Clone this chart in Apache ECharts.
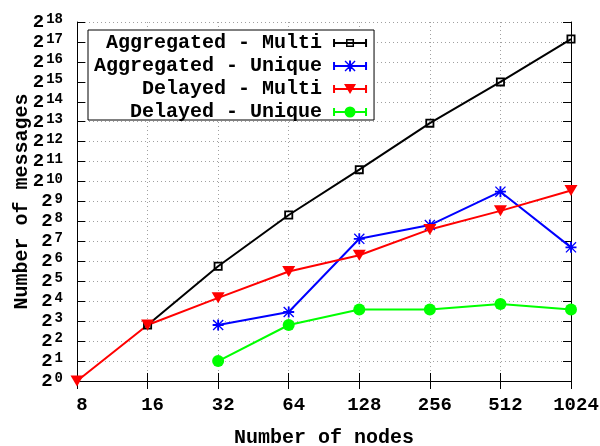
<!DOCTYPE html>
<html>
<head>
<meta charset="utf-8">
<script src="https://cdn.jsdelivr.net/npm/echarts@6/dist/echarts.min.js"></script>
<style>
  html, body { margin: 0; padding: 0; background: #fff; }
  #chart { width: 600px; height: 446px; }
</style>
</head>
<body>
<div id="chart"></div>
<script>
// number of nodes (x, log2 axis)
var nodes = [8, 16, 32, 64, 128, 256, 512, 1024];
// number of messages (null = no point)
var aggregatedMulti = [null, 7, 54, 320, 1550, 7800, 32700, 145000];
var aggregatedUnique = [null, null, 7, 11, 140, 226, 720, 104];
var delayedMulti = [1, 7, 18, 45, 79, 194, 370, 750];
var delayedUnique = [null, null, 2, 7, 12, 12, 14.5, 12];
// y tick exponents: 2^0 .. 2^18
var yExpMin = 0;
var yExpMax = 18;
var seriesNames = ["Aggregated - Multi", "Aggregated - Unique", "Delayed - Multi", "Delayed - Unique"];
var seriesColors = ["#000000", "#0000ff", "#ff0000", "#00ff00"];

var FONT = "Liberation Mono";
var WEIGHT = "bold";

// y axis is drawn in log2 units so every power of two gets a tick
function pairs(vals) {
  var out = [];
  for (var i = 0; i < nodes.length; i++) {
    if (vals[i] != null) out.push([nodes[i], Math.log2(vals[i])]);
  }
  return out;
}

// point shapes (gnuplot like)
var squareSym = "path://M0 0H10V10H0Z M2 2V8H8V2Z";
var starSym = "path://M0 5H12V7H0Z M5 0H7V12H5Z M0 1L1 0L12 11L11 12Z M11 0L12 1L1 12L0 11Z";

// legend icons: error bar line + marker, 34x12 box
var iconBase = "M0 0L0.1 0L0 0.1Z M34 12L33.9 12L34 11.9Z M0 5H34V7H0Z M0 2H2V10H0Z M32 2H34V10H32Z ";
var legendIcons = [
  "path://" + iconBase + "M13 2H21V10H13Z M14.5 3.5V8.5H19.5V3.5Z",
  "path://" + iconBase + "M16 0.5H18V11.5H16Z M11.5 1.5L12.5 0.5L22.5 10.5L21.5 11.5Z M21.5 0.5L22.5 1.5L12.5 11.5L11.5 10.5Z M11.5 5H22.5V7H11.5Z",
  "path://" + iconBase + "M11 1H23L17 11Z",
  "path://" + iconBase + "M22.5 6A5.5 5.5 0 1 1 11.5 6A5.5 5.5 0 1 1 22.5 6Z"
];

var chart = echarts.init(document.getElementById("chart"));

var gridLine = {
  show: true,
  lineStyle: { color: "#a0a0a0", type: [1, 3], width: 1 }
};
var blackTick = { inside: true, length: 8, lineStyle: { color: "#000" } };

chart.setOption({
  backgroundColor: "#fff",
  animation: false,
  grid: {
    left: 77,
    right: 29,
    top: 22,
    bottom: 65,
    outerBoundsMode: "none"
  },
  legend: {
    orient: "vertical",
    left: 88,
    top: 30,
    align: "right",
    itemWidth: 34,
    itemHeight: 12,
    itemGap: 3,
    padding: [3, 7, -2, 6],
    borderColor: "#000",
    borderWidth: 1,
    backgroundColor: "#fff",
    itemStyle: { borderWidth: 0 },
    textStyle: {
      fontFamily: FONT,
      fontWeight: WEIGHT,
      fontSize: 20,
      lineHeight: 19,
      color: "#000",
      padding: [0, 6, 0, 0]
    },
    data: seriesNames.map(function(n, i) {
      return { name: n, icon: legendIcons[i] };
    })
  },
  xAxis: [
    {
      type: "log",
      logBase: 2,
      min: 8,
      max: 1024,
      name: "Number of nodes",
      nameLocation: "middle",
      nameGap: 47,
      nameMoveOverlap: false,
      nameTextStyle: { fontFamily: FONT, fontWeight: WEIGHT, fontSize: 20, color: "#000" },
      axisLine: { lineStyle: { color: "#000", width: 1 } },
      axisTick: blackTick,
      minorTick: { show: false },
      axisLabel: {
        fontFamily: FONT,
        fontWeight: WEIGHT,
        fontSize: 19,
        color: "#000",
        margin: 15,
        padding: [0, 0, 0, 10],
        formatter: function(v) {
          return String(Math.round(v));
        }
      },
      splitLine: gridLine
    },
    {
      type: "log",
      logBase: 2,
      min: 8,
      max: 1024,
      position: "top",
      axisLine: { lineStyle: { color: "#000", width: 1 } },
      axisTick: blackTick,
      axisLabel: { show: false },
      splitLine: { show: false }
    }
  ],
  yAxis: [
    {
      type: "value",
      min: yExpMin,
      max: yExpMax,
      interval: 1,
      name: "Number of messages",
      nameLocation: "middle",
      nameGap: 45,
      nameMoveOverlap: false,
      nameTextStyle: { fontFamily: FONT, fontWeight: WEIGHT, fontSize: 20, color: "#000" },
      axisLine: { show: true, lineStyle: { color: "#000", width: 1 } },
      axisTick: blackTick,
      axisLabel: {
        margin: 14,
        formatter: function(v) {
          return "{b|2}{s|" + v + "}";
        },
        rich: {
          b: { fontFamily: FONT, fontWeight: WEIGHT, fontSize: 19, color: "#000", lineHeight: 19 },
          s: { fontFamily: FONT, fontWeight: WEIGHT, fontSize: 14, color: "#000", verticalAlign: "top", padding: [0, 0, 4, 2] }
        }
      },
      splitLine: gridLine
    },
    {
      type: "value",
      min: yExpMin,
      max: yExpMax,
      interval: 1,
      position: "right",
      axisLine: { show: true, lineStyle: { color: "#000", width: 1 } },
      axisTick: { show: true, inside: true, length: 8, lineStyle: { color: "#000" } },
      axisLabel: { show: false },
      splitLine: { show: false }
    }
  ],
  series: [
    {
      name: seriesNames[0],
      type: "line",
      data: pairs(aggregatedMulti),
      symbol: squareSym,
      symbolSize: 9,
      color: seriesColors[0],
      itemStyle: { borderWidth: 0 },
      lineStyle: { width: 2 }
    },
    {
      name: seriesNames[1],
      type: "line",
      data: pairs(aggregatedUnique),
      symbol: starSym,
      symbolSize: 11,
      color: seriesColors[1],
      itemStyle: { borderWidth: 0 },
      lineStyle: { width: 2 }
    },
    {
      name: seriesNames[2],
      type: "line",
      data: pairs(delayedMulti),
      symbol: "triangle",
      symbolSize: [13, 11],
      symbolRotate: 180,
      color: seriesColors[2],
      itemStyle: { borderWidth: 0 },
      lineStyle: { width: 2 }
    },
    {
      name: seriesNames[3],
      type: "line",
      data: pairs(delayedUnique),
      symbol: "circle",
      symbolSize: 12,
      color: seriesColors[3],
      itemStyle: { borderWidth: 0 },
      lineStyle: { width: 2 }
    }
  ]
});
</script>
</body>
</html>
